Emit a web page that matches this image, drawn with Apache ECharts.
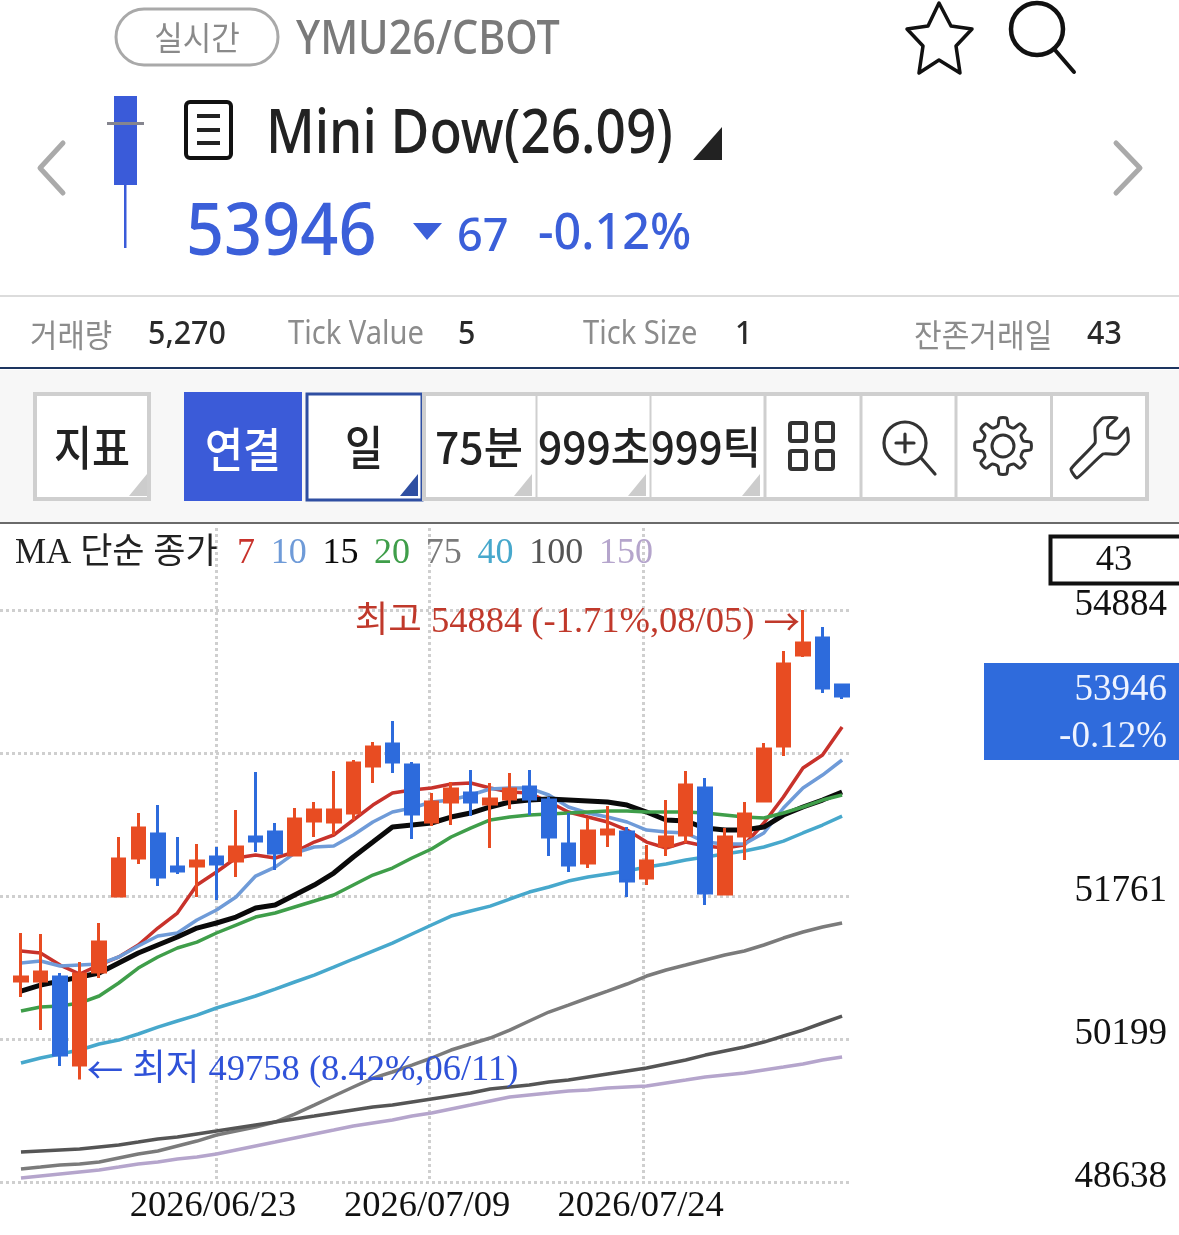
<!DOCTYPE html>
<html><head><meta charset="utf-8">
<style>html,body{margin:0;padding:0;background:#fff}#c{width:1179px;height:1235px}</style>
<script src="https://cdn.jsdelivr.net/npm/echarts@6/dist/echarts.min.js"></script>
</head><body><div id="c"></div>
<script>
const categories=['2026/06/08','2026/06/09','2026/06/10','2026/06/11','2026/06/12','2026/06/15','2026/06/16','2026/06/17','2026/06/18','2026/06/22','2026/06/23','2026/06/24','2026/06/25','2026/06/26','2026/06/29','2026/06/30','2026/07/01','2026/07/02','2026/07/06','2026/07/07','2026/07/08','2026/07/09','2026/07/10','2026/07/13','2026/07/14','2026/07/15','2026/07/16','2026/07/17','2026/07/20','2026/07/21','2026/07/22','2026/07/23','2026/07/24','2026/07/27','2026/07/28','2026/07/29','2026/07/30','2026/07/31','2026/08/03','2026/08/04','2026/08/05','2026/08/06','2026/08/07'];
// open, close, low, high
const ohlc=[[50833,50876,50658,51357],[50833,50931,50298,51346],[50876,50025,49905,50920],[49915,50909,49758,51040],[50931,51259,50865,51466],[51761,52165,51761,52405],[52176,52503,52110,52667],[52438,51968,51870,52755],[52078,52034,52001,52405],[52088,52143,51750,52329],[52187,52110,51717,52296],[52143,52296,51968,52700],[52405,52362,52241,53115],[52460,52230,52045,52558],[52209,52602,52209,52722],[52580,52700,52405,52787],[52569,52700,52427,53126],[52667,53213,52591,53246],[53181,53388,52995,53443],[53421,53224,53104,53672],[53191,52656,52383,53224],[52569,52787,52525,52886],[52787,52929,52536,53006],[52886,52787,52634,53137],[52766,52820,52285,52995],[52820,52929,52711,53104],[52951,52820,52645,53137],[52809,52405,52198,52842],[52329,52099,52023,52667],[52121,52471,52067,52613],[52438,52482,52296,52744],[52460,51925,51750,52514],[51957,52143,51881,52318],[52307,52405,52198,52809],[52427,52973,52340,53126],[52940,51794,51663,53049],[51783,52405,51783,52503],[52416,52656,52154,52787],[52798,53366,52798,53432],[53399,54294,53290,54436],[54393,54524,54371,54884],[54578,54032,53978,54698],[54065,53946,53912,54065]];
const ma7=[51160,51138,51007,50909,51007,51095,51226,51411,51575,51881,52023,52176,52208,52176,52241,52350,52427,52591,52754,52885,52918,52940,52984,52995,52940,52896,52885,52787,52678,52623,52569,52481,52350,52285,52350,52307,52285,52318,52558,52842,53158,53300,53606];
const ma10=[51029,51051,50996,51007,51018,51095,51215,51324,51357,51499,51608,51750,51979,52077,52230,52296,52307,52427,52569,52678,52722,52787,52809,52864,52929,52940,52940,52864,52733,52667,52623,52569,52481,52460,52449,52350,52329,52329,52449,52722,52940,53082,53246];
const ma15=[50723,50789,50832,50876,50920,51029,51138,51226,51313,51411,51466,51531,51630,51662,51772,51881,52012,52187,52350,52514,52536,52558,52623,52667,52733,52787,52809,52820,52809,52798,52787,52754,52678,52591,52580,52503,52481,52481,52514,52645,52733,52809,52896];
const ma20=[50505,50549,50559,50592,50669,50811,50974,51095,51193,51258,51357,51444,51531,51575,51641,51706,51772,51881,51990,52066,52176,52274,52405,52503,52591,52623,52645,52656,52667,52678,52689,52689,52678,52678,52678,52667,52645,52623,52612,52667,52733,52809,52864];
const ma40=[49937,49992,50035,50079,50145,50188,50254,50330,50396,50461,50538,50603,50669,50745,50822,50898,50985,51073,51160,51247,51346,51444,51542,51597,51651,51728,51804,51859,51924,51968,52001,52034,52077,52110,52154,52187,52219,52252,52296,52361,52449,52536,52634];
const ma75=[48780,48801,48823,48834,48856,48900,48943,48976,49031,49085,49151,49194,49238,49293,49380,49478,49577,49675,49773,49839,49915,49992,50079,50145,50210,50297,50396,50494,50570,50647,50723,50800,50887,50953,51007,51062,51116,51160,51226,51302,51368,51422,51466];
const ma100=[48965,48976,48987,48998,49020,49042,49074,49107,49129,49162,49194,49227,49260,49293,49326,49358,49391,49424,49457,49478,49511,49544,49577,49609,49653,49675,49697,49730,49751,49784,49817,49850,49882,49926,49970,50024,50068,50112,50166,50232,50297,50374,50450];
const ma150=[48681,48703,48725,48747,48769,48801,48834,48856,48889,48911,48943,48987,49031,49074,49118,49162,49205,49249,49282,49315,49358,49391,49435,49478,49522,49566,49588,49609,49631,49642,49664,49675,49686,49719,49751,49784,49806,49828,49861,49893,49926,49970,50003];
const yTicks=[48638,50199,51761,53322,54884];
const dateLabels=['2026/06/23','2026/07/09','2026/07/24'];
const dateGridIdx=[9.975,20.87,31.8];
const dateLabelIdx=[9.82,20.77,31.69];

const C={red:'#e84c22',blue:'#2d6bdc',hi:'#c0392b',lo:'#2f52d8'};
const serif='"Liberation Serif","Noto Sans CJK KR",serif';
const sans='"Noto Sans CJK KR","Noto Sans",sans-serif';
const latin='"Noto Sans",sans-serif';

function T(x,y,text,size,fill,o){o=o||{};return {type:'text',x:x,y:y,scaleX:o.sx||1,z:100,silent:true,style:{text:text,fill:fill,font:(o.w||400)+' '+size+'px '+(o.f||sans),textAlign:o.a||'left',textVerticalAlign:'middle'}};}
function R(x,y,w,h,o){return {type:'rect',z:o.z||90,silent:true,shape:{x:x,y:y,width:w,height:h,r:o.r||0},style:{fill:o.fill||'none',stroke:o.stroke||null,lineWidth:o.lw||0}};}
function P(pts,o){return {type:o.close?'polygon':'polyline',z:o.z||100,silent:true,shape:{points:pts,smooth:o.smooth||0},style:{fill:o.fill||'none',stroke:o.stroke||null,lineWidth:o.lw||0,lineCap:'round',lineJoin:o.join||'round'}};}
function Cir(x,y,r,s,lw){return {type:'circle',z:100,silent:true,shape:{cx:x,cy:y,r:r},style:{fill:'none',stroke:s,lineWidth:lw}};}
function gear(cx,cy,ro,ri,n){const p=[];for(let k=0;k<n;k++){const a=k/n*Math.PI*2,d=Math.PI/n;[[-.62,ri],[-.34,ro],[.34,ro],[.62,ri]].forEach(q=>p.push([cx+q[1]*Math.sin(a+q[0]*d),cy-q[1]*Math.cos(a+q[0]*d)]));}return p;}

const btnBorder='#cfcfcf',iconC='#333';
const chrome=[
 R(0,370,1179,153,{fill:'#f7f7f7',z:1}),
 R(0,295,1179,2,{fill:'#dcdcdc'}),
 R(0,367,1179,2,{fill:'#1d3560'}),
 R(0,522,1179,2,{fill:'#6a6a6a'}),
 // top row
 R(116,9,162,56,{stroke:'#a9a9a9',lw:3,r:28}),
 T(197,37,'실시간',33,'#8a8a8a',{a:'center',sx:.94}),
 T(296,41,'YMU26/CBOT',47,'#7a7a7a',{sx:.88,f:latin,w:500}),
 P([[939,3],[951,26],[972,29],[956,46],[960,73],[939,60],[919,73],[923,46],[907,29],[928,26]],{close:true,stroke:'#111',lw:3.5}),
 Cir(1037,29,26,'#111',4.5),
 P([[1055,50],[1074,72]],{stroke:'#111',lw:4}),
 // title row
 P([[63,143],[40,168],[63,193]],{stroke:'#aaaaaa',lw:5}),
 P([[1116,143],[1140,168],[1116,193]],{stroke:'#aaaaaa',lw:5}),
 R(114,96,23,89,{fill:'#3a5bd9'}),
 R(124,185,2.5,63,{fill:'#3a5bd9'}),
 R(107,122,37,3,{fill:'#85858f',z:95}),
 R(186,102,45,56,{stroke:'#111',lw:4,r:4}),
 R(197,114,23,4,{fill:'#222'}),R(197,128,23,4,{fill:'#222'}),R(197,141,23,4,{fill:'#222'}),
 T(266,135,'Mini Dow(26.09)',62,'#222',{sx:.857,f:latin,w:500}),
 P([[693,160],[722,160],[722,127]],{close:true,fill:'#222'}),
 T(186,234,'53946',72,'#3b5fd9',{sx:.925,f:latin,w:500}),
 P([[413,223],[442,223],[427,240]],{close:true,fill:'#3b5fd9'}),
 T(457,238,'67',46,'#3b5fd9',{sx:.98,f:latin,w:500}),
 T(538,235,'-0.12%',50,'#3b5fd9',{sx:.97,f:latin,w:500}),
 // info row
 T(30,335,'거래량',32,'#8c8c8c',{sx:.93}),
 T(148,335,'5,270',32,'#2a2a2a',{sx:.95,f:latin,w:500}),
 T(288,335,'Tick Value',32,'#8c8c8c',{sx:.91,f:latin}),
 T(458,335,'5',32,'#2a2a2a',{sx:.95,f:latin,w:500}),
 T(583,335,'Tick Size',32,'#8c8c8c',{sx:.91,f:latin}),
 T(735,335,'1',32,'#2a2a2a',{sx:.95,f:latin,w:500}),
 T(914,335,'잔존거래일',32,'#8c8c8c',{sx:.94}),
 T(1087,335,'43',32,'#2a2a2a',{sx:.95,f:latin,w:500}),
 // toolbar
 R(35,394,114,105,{fill:'#fff',stroke:btnBorder,lw:4,z:5}),
 R(184,392,118,109,{fill:'#3b5bd8',z:5}),
 R(307,394,115,106,{fill:'#fff',stroke:'#2f4fa2',lw:3,z:5}),
 R(424,394,723,105,{fill:'#fff',stroke:btnBorder,lw:4,z:5}),
 R(535.5,394,2,105,{fill:btnBorder,z:6}),R(649.5,394,2,105,{fill:btnBorder,z:6}),R(763.5,394,3,105,{fill:btnBorder,z:6}),
 R(859.5,394,3,105,{fill:btnBorder,z:6}),R(954.5,394,3,105,{fill:btnBorder,z:6}),R(1050,394,3,105,{fill:btnBorder,z:6}),
 T(92,447,'지표',47,'#222',{a:'center',sx:.88,w:500}),
 T(243,449,'연결',47,'#fff',{a:'center',sx:.88,w:500}),
 T(364,447,'일',47,'#222',{a:'center',sx:.88,w:500}),
 T(479,447,'75분',44,'#222',{a:'center',sx:.97,w:500}),
 T(594,447,'999초',44,'#222',{a:'center',sx:.97,w:500}),
 T(706,447,'999틱',44,'#222',{a:'center',sx:.95,w:500}),
 P([[147,474],[147,496],[129,496]],{close:true,fill:'#cccccc',join:'miter'}),
 P([[418,474],[418,496],[400,496]],{close:true,fill:'#2f4fa2',join:'miter'}),
 P([[532,474],[532,496],[514,496]],{close:true,fill:'#cccccc',join:'miter'}),
 P([[646,474],[646,496],[628,496]],{close:true,fill:'#cccccc',join:'miter'}),
 P([[760,474],[760,496],[742,496]],{close:true,fill:'#cccccc',join:'miter'}),
 R(790,423,16,18,{stroke:iconC,lw:4,r:2}),R(817,423,16,18,{stroke:iconC,lw:4,r:2}),R(790,451,16,18,{stroke:iconC,lw:4,r:2}),R(817,451,16,18,{stroke:iconC,lw:4,r:2}),
 Cir(905,443,21,iconC,3.2),P([[921,458],[935,474]],{stroke:iconC,lw:3.2}),P([[896,443],[914,443]],{stroke:iconC,lw:3.2}),P([[905,434],[905,452]],{stroke:iconC,lw:3.2}),
 P(gear(1003,446,28,21,8),{close:true,stroke:iconC,lw:3,smooth:.25}),Cir(1003,446,11,iconC,3),
 P([[1071,469],[1077,478],[1103,454],[1117,454],[1128,442],[1127,428],[1118,438],[1108,437],[1108,427],[1117,418],[1103,418],[1095,427],[1095,443]],{close:true,stroke:iconC,lw:3,smooth:.15}),
 // right side tags
 R(1050.5,536.5,140,47,{stroke:'#111',lw:4}),
 T(1114,560,'43',36.5,'#111',{a:'center',f:serif}),
 R(984,663,195,97,{fill:'#2f6bdc',z:110}),
 Object.assign(T(1167,690,'53946',37,'#eef3ff',{a:'right',f:serif}),{z:111}),
 Object.assign(T(1167,737,'-0.12%',37,'#eef3ff',{a:'right',f:serif}),{z:111}),
 T(15,554,'MA 단순 종가',35,'#222',{f:serif,sx:1})
];

const lineDefs=[['7',ma7,'#c8322b',3.5],['10',ma10,'#6f9bd8',3.5],['15',ma15,'#0a0a0a',5],['20',ma20,'#3f9e4a',3.5],['75',ma75,'#7b7b7b',3.5],['40',ma40,'#47a8cc',3.5],['100',ma100,'#555555',3.5],['150',ma150,'#b5a5cc',3.5]];
const gridDot={show:true,lineStyle:{color:'#cfcfcf',width:3,type:[3,3]}};
const yMax=55779.4,yMin=48638;
const arrow={fontFamily:'"Noto Sans CJK KR"',fontSize:36.5};
const option={
 animation:false,backgroundColor:'#fff',
 textStyle:{fontFamily:serif},
 legend:{left:232,top:536,icon:'none',itemWidth:0,itemHeight:0,itemGap:10.7,padding:0,selectedMode:false,data:lineDefs.map(d=>d[0]),
   textStyle:{fontFamily:serif,fontSize:36,color:'inherit'}},
 grid:[{left:11.2,width:840.65,top:528,height:654},{left:0,width:852,top:528,height:654}],
 xAxis:[
  {gridIndex:0,type:'category',data:categories,boundaryGap:true,axisLine:{show:false},axisTick:{show:false},axisLabel:{show:false},splitLine:{show:false}},
  {gridIndex:1,type:'value',min:-1.074,max:42.5,axisLine:{show:false},
   axisTick:{show:false,customValues:dateGridIdx},
   axisLabel:{customValues:dateLabelIdx,margin:6,color:'#111',fontFamily:serif,fontSize:36.5,formatter:v=>dateLabels[dateLabelIdx.indexOf(v)]||''},
   splitLine:gridDot}
 ],
 yAxis:[
  {gridIndex:0,type:'value',min:yMin,max:yMax,axisLine:{show:false},axisTick:{show:false},axisLabel:{show:false},splitLine:{show:false}},
  {gridIndex:1,type:'value',min:yMin,max:yMax,position:'right',axisLine:{show:false},
   axisTick:{show:false,customValues:yTicks},
   axisLabel:{customValues:yTicks,margin:315,align:'right',verticalAlign:'bottom',lineHeight:10,color:'#111',fontFamily:serif,fontSize:37,formatter:v=>String(v)},
   splitLine:gridDot}
 ],
 series:lineDefs.map(d=>({name:d[0],type:'line',xAxisIndex:0,yAxisIndex:0,data:d[1],showSymbol:false,smooth:false,z:2,
    itemStyle:{color:d[2]},lineStyle:{color:d[2],width:d[3]}})).concat([{
    type:'candlestick',name:'Mini Dow',xAxisIndex:0,yAxisIndex:0,data:ohlc,barWidth:13,z:3,
    itemStyle:{color:C.red,color0:C.blue,borderColor:C.red,borderColor0:C.blue,borderWidth:3},
    markPoint:{symbol:'circle',symbolSize:0,z:5,data:[
      {coord:[40,54884],value:54884,label:{show:true,position:'left',distance:3,offset:[0,12],formatter:'최고 54884 (-1.71%,08/05) {a|→}',color:C.hi,fontFamily:serif,fontSize:36.5,rich:{a:Object.assign({color:C.hi},arrow)}}},
      {coord:[3,49758],value:49758,label:{show:true,position:'right',distance:7,offset:[0,-9],formatter:'{a|←} 최저 49758 (8.42%,06/11)',color:C.lo,fontFamily:serif,fontSize:36.5,rich:{a:Object.assign({color:C.lo},arrow)}}}
    ]}
 }]),
 graphic:{elements:chrome}
};
const chart=echarts.init(document.getElementById('c'));
chart.setOption(option);
</script></body></html>
